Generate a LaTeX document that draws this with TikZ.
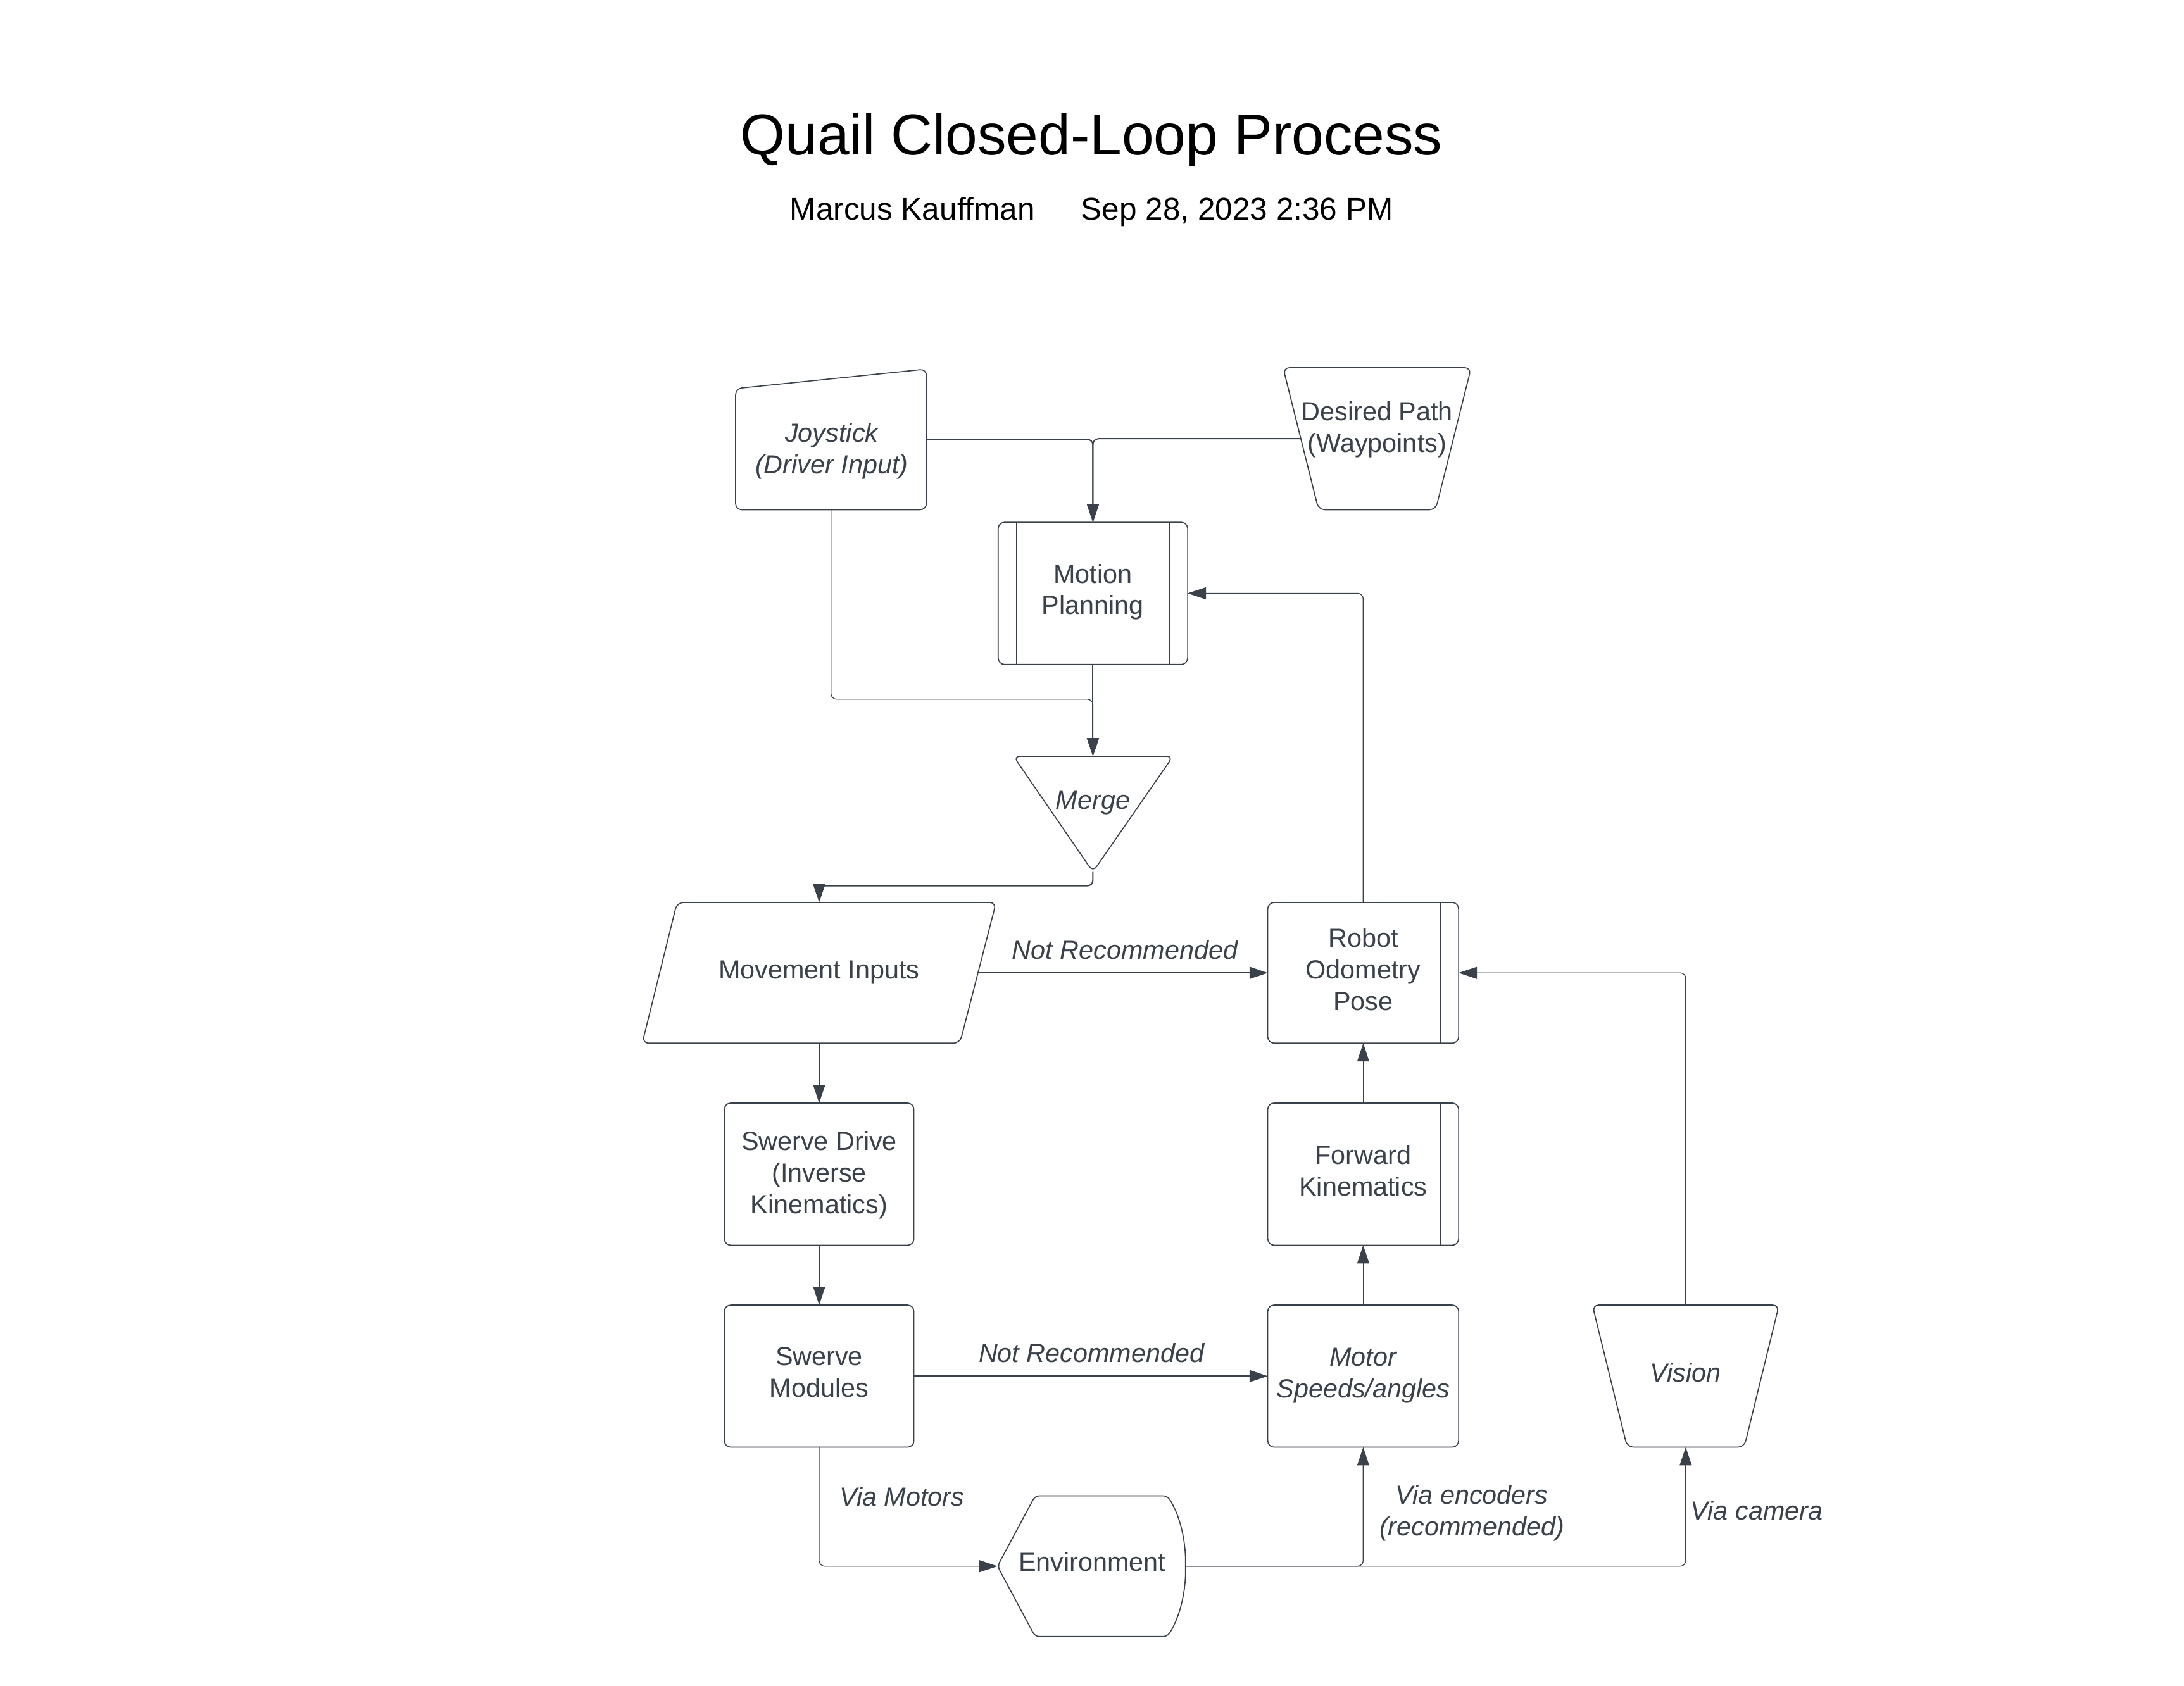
\documentclass[tikz,border=0pt]{standalone}
\usepackage{fontspec}
\setmainfont{Liberation Sans}
\usetikzlibrary{arrows.meta}
\definecolor{lc}{RGB}{58,65,74}
\newcommand{\nfont}{\fontsize{18.8}{22.6}\selectfont}
\begin{document}
\begin{tikzpicture}[x=1pt,y=-1pt,scale=0.99,transform shape,
  box/.style={draw=lc, line width=0.75pt, rounded corners=4.5pt, minimum width=136pt, minimum height=102pt, inner sep=0pt, outer sep=0pt},
  ghost/.style={inner sep=0pt, outer sep=0pt},
  txt/.style={text=lc, font=\nfont, align=center, inner sep=0pt},
  itxt/.style={text=lc, font=\nfont\itshape, align=center, inner sep=0pt},
  shp/.style={draw=lc, line width=0.75pt, rounded corners=4.5pt},
  innerline/.style={draw=lc, line width=0.45pt},
  conn/.style={draw=lc, line width=0.9pt, rounded corners=4pt, -{Triangle[length=13pt,width=8.5pt]}},
  thinconn/.style={conn, line width=0.6pt},
]
\useasboundingbox (0,0) rectangle (1567.7,1210.1);
\fill[white] (0,0) rectangle (1567.7,1210.1);

% title
\node[anchor=base, inner sep=0pt, font=\fontsize{41.4}{50}\selectfont] (title) at (783.5,111) {Quail Closed-Loop Process};
\node[anchor=base, inner sep=0pt, font=\fontsize{22.5}{27}\selectfont] (author) at (655,158) {Marcus Kauffman};
\node[anchor=base, inner sep=0pt, font=\fontsize{22.5}{27}\selectfont] (date) at (888,158) {Sep 28, 2023 2:36 PM};

% ---- special shapes (outlines) ----
\draw[shp] (528,279) -- (665,265) -- (665,366) -- (528,366) -- cycle;
\node[ghost, minimum width=137pt, minimum height=101pt] (joy) at (596.5,315.5) {};
\node[itxt] (joyt) at (597,324) {Joystick\\(Driver Input)};

\draw[shp] (921,264) -- (1056,264) -- (1030.5,366) -- (946.5,366) -- cycle;
\node[ghost, minimum width=135pt, minimum height=102pt] (dp) at (988.5,315) {};
\coordinate (dpl) at (934,315);
\node[txt] (dpt) at (988.5,308.3) {Desired Path\\(Waypoints)};

\draw[shp] (727.5,543) -- (842,543) -- (784.5,626) -- cycle;
\node[ghost, minimum width=114.5pt, minimum height=83pt] (merge) at (784.5,584.5) {};
\node[itxt] (mert) at (784.5,576.6) {Merge};

\draw[shp] (486,648) -- (715,648) -- (689,749) -- (461,749) -- cycle;
\node[ghost, minimum width=254pt, minimum height=101pt] (mi) at (588,698.5) {};
\coordinate (mir) at (702,698.5);
\node[txt] (mit) at (588,698.3) {Movement Inputs};

\draw[shp] (1143,937) -- (1277,937) -- (1252,1039) -- (1168,1039) -- cycle;
\node[ghost, minimum width=134pt, minimum height=102pt] (vis) at (1210,988) {};
\node[itxt] (vist) at (1210,985.4) {Vision};

\draw[draw=lc, line width=0.75pt, rounded corners=3pt] (716,1124.5) -- (743,1074) -- (838,1074)
  .. controls (848,1090) and (851,1108) .. (851,1124.5)
  .. controls (851,1141) and (848,1159) .. (838,1175) -- (743,1175) -- cycle;
\node[ghost, minimum width=135pt, minimum height=101pt] (env) at (783.5,1124.5) {};
\node[txt] (envt) at (784,1121.4) {Environment};

% ---- rectangles ----
\node[box] (mp) at (784.5,426) {};
\draw[draw=lc, line width=0.75pt] ([xshift=13pt]mp.north west) -- ([xshift=13pt]mp.south west);
\draw[draw=lc, line width=0.75pt] ([xshift=-13pt]mp.north east) -- ([xshift=-13pt]mp.south east);
\node[txt] (mpt) at (784.5,425) {Motion\\Planning};

\node[box, minimum width=137pt, minimum height=101pt] (rob) at (978.5,698.5) {};
\draw[innerline] ([xshift=13pt]rob.north west) -- ([xshift=13pt]rob.south west);
\draw[innerline] ([xshift=-13pt]rob.north east) -- ([xshift=-13pt]rob.south east);
\node[txt] (robt) at (978.5,696) {Robot\\Odometry\\Pose};

\node[box] (sd) at (588,843) {};
\node[txt] (sdt) at (588,843.8) {Swerve Drive\\(Inverse\\Kinematics)};

\node[box, minimum width=137pt] (fk) at (978.5,843) {};
\draw[innerline] ([xshift=13pt]fk.north west) -- ([xshift=13pt]fk.south west);
\draw[innerline] ([xshift=-13pt]fk.north east) -- ([xshift=-13pt]fk.south east);
\node[txt] (fkt) at (978.5,840.5) {Forward\\Kinematics};

\node[box] (sm) at (588,988) {};
\node[txt] (smt) at (588,985.3) {Swerve\\Modules};

\node[box, minimum width=137pt] (mot) at (978.5,988) {};
\node[itxt] (mott) at (978.5,987.5) {Motor\\Speeds/angles};

% ---- connectors ----
\draw[conn] (joy.east) -| (mp.north);
\draw[conn] (dpl) -| (mp.north);
\draw[thinconn] (joy.south) |- ([yshift=41pt]merge.north) -- (merge.north);
\draw[conn] (mp.south) -- (merge.north);
\draw[conn] (merge.south) -- ++(0,10) -| (mi.north);
\draw[conn] (mir) -- (rob.west);
\node[itxt] (l1) at (807.5,682) {Not Recommended};
\draw[thinconn] (rob.north) |- (mp.east);
\draw[thinconn] (vis.north) |- (rob.east);
\draw[thinconn] (mi.south) -- (sd.north);
\draw[thinconn] (sd.south) -- (sm.north);
\draw[thinconn] (fk.north) -- (rob.south);
\draw[thinconn] (mot.north) -- (fk.south);
\draw[conn, line width=0.75pt] (sm.east) -- (mot.west);
\node[itxt] (l2) at (783.5,971.6) {Not Recommended};
\draw[thinconn] (sm.south) |- (env.west);
\node[itxt] (l3) at (647.5,1074.5) {Via Motors};
\draw[thinconn] (env.east) -| (mot.south);
\node[itxt] (l4) at (1056.5,1086.4) {Via encoders\\(recommended)};
\draw[thinconn] (env.east) -| (vis.south);
\node[itxt] (l5) at (1261,1084.4) {Via camera};
\end{tikzpicture}
\end{document}
